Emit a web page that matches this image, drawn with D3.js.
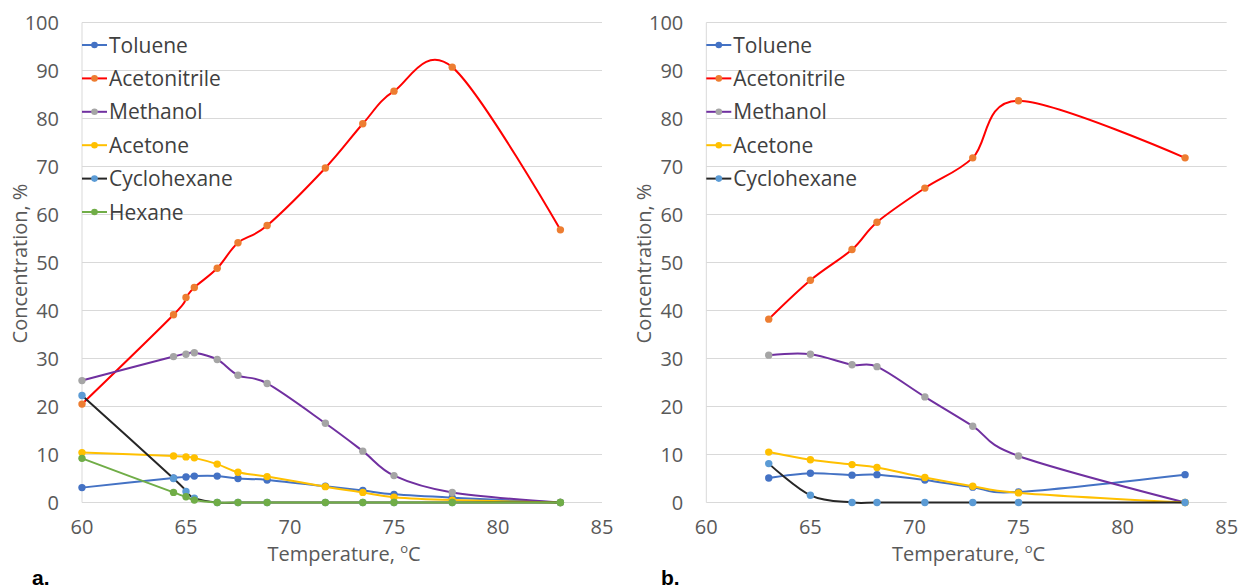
<!DOCTYPE html>
<html>
<head>
<meta charset="utf-8">
<script src="https://cdn.jsdelivr.net/npm/d3@7"></script>
<style>
  body { margin: 0; background: #fff; }
  svg { display: block; font-family: "Open Sans", sans-serif; }
</style>
</head>
<body>
<script>
// Panel a data
const tempA = [60, 64.4, 65.0, 65.4, 66.5, 67.5, 68.9, 71.7, 73.5, 75.0, 77.8, 83.0];
const tolueneA = [3.1, 5.1, 5.3, 5.5, 5.5, 5.0, 4.7, 3.4, 2.5, 1.7, 1.0, 0];
const acetonitrileA = [20.5, 39.1, 42.7, 44.8, 48.8, 54.1, 57.7, 69.7, 78.9, 85.7, 90.7, 56.8];
const methanolA = [25.4, 30.4, 30.9, 31.2, 29.8, 26.5, 24.8, 16.5, 10.7, 5.6, 2.1, 0];
const acetoneA = [10.4, 9.7, 9.5, 9.3, 8.0, 6.3, 5.4, 3.3, 2.1, 1.1, 0.5, 0];
const cyclohexaneA = [22.3, 5.0, 2.3, 0.9, 0, 0, 0, 0, 0, 0, 0, 0];
const hexaneA = [9.2, 2.1, 1.2, 0.5, 0, 0, 0, 0, 0, 0, 0, 0];

// Panel b data
const tempB = [63, 65, 67, 68.2, 70.5, 72.8, 75, 83];
const tolueneB = [5.1, 6.1, 5.7, 5.8, 4.7, 3.2, 2.2, 5.8];
const acetonitrileB = [38.2, 46.3, 52.7, 58.4, 65.5, 71.8, 83.7, 71.8];
const methanolB = [30.7, 30.9, 28.7, 28.3, 22.0, 15.9, 9.7, 0];
const acetoneB = [10.5, 8.9, 7.9, 7.3, 5.2, 3.4, 2.0, 0];
const cyclohexaneB = [8.1, 1.5, 0, 0, 0, 0, 0, 0];

const xTicks = [60, 65, 70, 75, 80, 85];
const yTicks = [0, 10, 20, 30, 40, 50, 60, 70, 80, 90, 100];

// line colour / marker colour per series
const styles = {
  "Toluene":      { line: "#4472C4", dot: "#4472C4" },
  "Acetonitrile": { line: "#FF0000", dot: "#ED7D31" },
  "Methanol":     { line: "#7030A0", dot: "#A5A5A5" },
  "Acetone":      { line: "#FFC000", dot: "#FFC000" },
  "Cyclohexane":  { line: "#262626", dot: "#5B9BD5" },
  "Hexane":       { line: "#70AD47", dot: "#70AD47" }
};

const svg = d3.select("body").append("svg")
  .attr("width", 1241)
  .attr("height", 588);

function panel(opts) {
  const { left, right, top, bottom, temps, series, label, labelX, titleX } = opts;

  const x = d3.scaleLinear().domain([60, 85]).range([left, right]);
  const y = d3.scaleLinear().domain([0, 100]).range([bottom, top]);

  const g = svg.append("g");

  // gridlines
  g.selectAll("line.grid")
    .data(yTicks)
    .join("line")
      .attr("x1", left).attr("x2", right)
      .attr("y1", d => y(d)).attr("y2", d => y(d))
      .attr("stroke", "#d9d9d9")
      .attr("stroke-width", 1);

  g.append("line")
    .attr("x1", left).attr("x2", left)
    .attr("y1", top).attr("y2", bottom)
    .attr("stroke", "#d9d9d9");

  // y tick labels
  g.selectAll("text.ytick")
    .data(yTicks)
    .join("text")
      .attr("x", left - 23)
      .attr("y", d => y(d))
      .attr("dy", "0.36em")
      .attr("text-anchor", "end")
      .attr("font-size", 20)
      .attr("fill", "#595959")
      .text(d => d);

  // x tick labels
  g.selectAll("text.xtick")
    .data(xTicks)
    .join("text")
      .attr("x", d => x(d))
      .attr("y", 534)
      .attr("text-anchor", "middle")
      .attr("font-size", 20)
      .attr("fill", "#595959")
      .text(d => d);

  // axis titles
  const xt = g.append("text")
    .attr("x", (left + right) / 2 + 2)
    .attr("y", 561)
    .attr("text-anchor", "middle")
    .attr("font-size", 20)
    .attr("fill", "#595959");
  xt.append("tspan").text("Temperature, ");
  xt.append("tspan").attr("font-size", 13).attr("dy", -8).text("o");
  xt.append("tspan").attr("dy", 8).text("C");

  g.append("text")
    .attr("transform", `translate(${titleX},${(top + bottom) / 2 + 1}) rotate(-90)`)
    .attr("text-anchor", "middle")
    .attr("dy", "0.35em")
    .attr("font-size", 20)
    .attr("fill", "#595959")
    .text("Concentration, %");

  // series
  const line = d3.line()
    .x(d => x(d[0]))
    .y(d => y(d[1]))
    .curve(d3.curveCardinal.tension(0));

  series.forEach(s => {
    const pts = temps.map((t, i) => [t, s.values[i]]);
    const st = styles[s.name];
    g.append("path")
      .datum(pts)
      .attr("fill", "none")
      .attr("stroke", st.line)
      .attr("stroke-width", 2)
      .attr("d", line);
    g.selectAll(null)
      .data(pts)
      .join("circle")
        .attr("cx", d => x(d[0]))
        .attr("cy", d => y(d[1]))
        .attr("r", 3.7)
        .attr("fill", st.dot);
  });

  // legend
  series.forEach((s, i) => {
    const st = styles[s.name];
    const ly = 45 + i * 33.4;
    g.append("line")
      .attr("x1", left).attr("x2", left + 25)
      .attr("y1", ly).attr("y2", ly)
      .attr("stroke", st.line)
      .attr("stroke-width", 2);
    g.append("circle")
      .attr("cx", left + 12.5).attr("cy", ly)
      .attr("r", 3.3)
      .attr("fill", st.dot);
    g.append("text")
      .attr("x", left + 27)
      .attr("y", ly)
      .attr("dy", "0.36em")
      .attr("font-size", 21)
      .attr("fill", "#404040")
      .text(s.name);
  });

  // panel letter
  svg.append("text")
    .attr("x", labelX)
    .attr("y", 585)
    .attr("font-size", 21)
    .attr("font-weight", "bold")
    .attr("font-family", "Liberation Sans, Arial, sans-serif")
    .attr("fill", "#000")
    .text(label);
}

panel({
  left: 82, right: 602, top: 22.5, bottom: 502.5,
  temps: tempA,
  series: [
    { name: "Toluene", values: tolueneA },
    { name: "Acetonitrile", values: acetonitrileA },
    { name: "Methanol", values: methanolA },
    { name: "Acetone", values: acetoneA },
    { name: "Cyclohexane", values: cyclohexaneA },
    { name: "Hexane", values: hexaneA }
  ],
  label: "a.", labelX: 32, titleX: 20
});

panel({
  left: 706.3, right: 1226.7, top: 22.5, bottom: 502.5,
  temps: tempB,
  series: [
    { name: "Toluene", values: tolueneB },
    { name: "Acetonitrile", values: acetonitrileB },
    { name: "Methanol", values: methanolB },
    { name: "Acetone", values: acetoneB },
    { name: "Cyclohexane", values: cyclohexaneB }
  ],
  label: "b.", labelX: 661, titleX: 644
});
</script>
</body>
</html>
